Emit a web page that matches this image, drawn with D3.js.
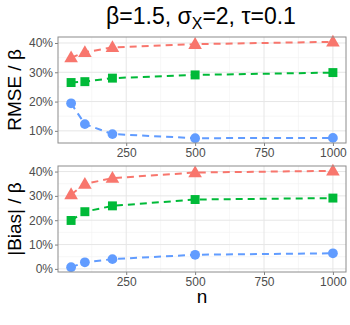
<!DOCTYPE html>
<html><head><meta charset="utf-8">
<script src="https://cdn.jsdelivr.net/npm/d3@7"></script>
<style>body{margin:0;background:#fff}svg{display:block;font-family:"Liberation Sans",Arial,sans-serif}</style>
</head><body><svg id="c" width="350" height="325"></svg>
<script>
const nValues = [50, 100, 200, 500, 1000];
const xTicks = [250, 500, 750, 1000];
const seriesNames = ["s1", "s2", "s3"];
const seriesColors = ["#F8766D", "#00BA38", "#619CFF"];
const seriesShapes = ["triangle", "square", "circle"];
const rmseRed = [35.0, 36.8, 38.5, 39.6, 40.4];
const rmseGreen = [26.5, 26.8, 28.0, 29.1, 29.9];
const rmseBlue = [19.4, 12.3, 8.9, 7.5, 7.6];
const biasRed = [30.6, 34.9, 37.3, 39.6, 40.3];
const biasGreen = [19.9, 23.5, 25.9, 28.5, 29.1];
const biasBlue = [0.7, 2.7, 4.0, 5.8, 6.4];
const rmseTicks = [10, 20, 30, 40];
const biasTicks = [0, 10, 20, 30, 40];

const svg = d3.select("#c");
const L = 58, R = 346;
const x = d3.scaleLinear().domain([2.5, 1047.5]).range([L, R]);

const title = svg.append("text").attr("x", 201).attr("y", 24).attr("text-anchor", "middle")
  .attr("font-size", 23).attr("fill", "#000");
title.append("tspan").text("β=1.5, σ");
title.append("tspan").attr("font-size", 16).attr("dy", 5).text("X");
title.append("tspan").attr("dy", -5).text("=2, τ=0.1");

function panel(top, bottom, data, ticks, ylabel) {
  const all = data.flat();
  const lo = d3.min(all), hi = d3.max(all), pad = (hi - lo) * 0.05;
  const y = d3.scaleLinear().domain([lo - pad, hi + pad]).range([bottom, top]);
  const g = svg.append("g");
  const xMinor = [125, 375, 625, 875];
  const yMinor = ticks.map(t => t + 5).concat([ticks[0] - 5]).filter(v => v > y.domain()[0] && v < y.domain()[1]);
  g.selectAll(".xm").data(xMinor).enter().append("line").attr("x1", d => x(d)).attr("x2", d => x(d))
    .attr("y1", top).attr("y2", bottom).attr("stroke", "#f2f2f2").attr("stroke-width", 0.6);
  g.selectAll(".ym").data(yMinor).enter().append("line").attr("y1", d => y(d)).attr("y2", d => y(d))
    .attr("x1", L).attr("x2", R).attr("stroke", "#f2f2f2").attr("stroke-width", 0.6);
  g.selectAll(".xg").data(xTicks).enter().append("line").attr("x1", d => x(d)).attr("x2", d => x(d))
    .attr("y1", top).attr("y2", bottom).attr("stroke", "#e6e6e6").attr("stroke-width", 1);
  g.selectAll(".yg").data(ticks).enter().append("line").attr("y1", d => y(d)).attr("y2", d => y(d))
    .attr("x1", L).attr("x2", R).attr("stroke", "#e6e6e6").attr("stroke-width", 1);
  const ya = g.append("g").attr("transform", `translate(${L},0)`)
    .call(d3.axisLeft(y).tickValues(ticks).tickFormat(d => d + "%").tickSize(3).tickPadding(2));
  ya.select(".domain").remove();
  ya.selectAll("line").attr("stroke", "#7f7f7f");
  ya.selectAll("text").attr("font-size", 12).attr("fill", "#4d4d4d").attr("font-family", "Liberation Sans, Arial");
  const xa = g.append("g").attr("transform", `translate(0,${bottom})`)
    .call(d3.axisBottom(x).tickValues(xTicks).tickFormat(d3.format("d")).tickSize(3).tickPadding(2));
  xa.select(".domain").remove();
  xa.selectAll("line").attr("stroke", "#7f7f7f");
  xa.selectAll("text").attr("font-size", 12).attr("fill", "#4d4d4d").attr("font-family", "Liberation Sans, Arial");
  const line = d3.line().x((d, i) => x(nValues[i])).y(d => y(d));
  data.forEach((vals, k) => {
    g.append("path").attr("d", line(vals)).attr("fill", "none").attr("stroke", seriesColors[k])
      .attr("stroke-width", 2).attr("stroke-dasharray", "7,5");
  });
  const symType = {triangle: d3.symbolTriangle, square: d3.symbolSquare, circle: d3.symbolCircle};
  const symSize = {triangle: 80, square: 80, circle: 75};
  data.forEach((vals, k) => {
    const sh = seriesShapes[k];
    g.selectAll(null).data(vals).enter().append("path")
      .attr("d", d3.symbol().type(symType[sh]).size(symSize[sh]))
      .attr("transform", (d, i) => `translate(${x(nValues[i])},${y(d) + (sh === "triangle" ? 0.8 : 0)})`)
      .attr("fill", seriesColors[k]);
  });
  g.append("rect").attr("x", L).attr("y", top).attr("width", R - L).attr("height", bottom - top)
    .attr("fill", "none").attr("stroke", "#8c8c8c").attr("stroke-width", 1);
  svg.append("text").attr("transform", `translate(${21},${(top + bottom) / 2}) rotate(-90)`)
    .attr("text-anchor", "middle").attr("font-size", 19).attr("fill", "#000").text(ylabel);
}

panel(37, 143, [rmseRed, rmseGreen, rmseBlue], rmseTicks, "RMSE / β");
panel(166, 272, [biasRed, biasGreen, biasBlue], biasTicks, "|Bias| / β");

svg.append("text").attr("x", 202).attr("y", 303).attr("text-anchor", "middle")
  .attr("font-size", 19).attr("fill", "#000").text("n");
</script></body></html>
